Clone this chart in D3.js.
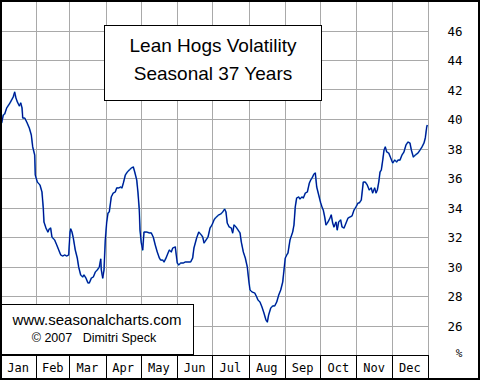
<!DOCTYPE html>
<html>
<head>
<meta charset="utf-8">
<script src="https://cdn.jsdelivr.net/npm/d3@7"></script>
<style>
  html, body { margin: 0; padding: 0; background: #fff; }
  svg { display: block; }
</style>
</head>
<body>
<svg id="chart" width="480" height="380"></svg>
<script>
// ---- data (day of year, volatility %) ----
const days = [
  1.4, 2.8, 4.0, 5.7, 8.5, 11.3, 12.5, 13.6, 14.8, 16.5, 17.7, 18.8, 19.4, 21.1, 22.8, 25.0, 26.7, 27.9, 29.6, 30.1,
  31.8, 34.1, 35.8, 36.9, 37.5, 39.2, 40.9, 42.0, 43.2, 44.3, 46.6, 48.4, 50.1, 51.8, 53.5, 55.2, 56.9, 58.6, 59.7, 60.3,
  61.4, 62.5, 64.2, 65.9, 67.1, 68.8, 70.5, 71.6, 73.3, 75.0, 76.2, 77.9, 79.6, 81.3, 83.0, 84.7, 85.9, 86.4, 87.6, 88.7,
  89.8, 91.0, 92.1, 93.2, 94.9, 96.6, 98.3, 99.5, 101.2, 102.9, 104.0, 105.2, 106.9, 108.6, 110.3, 112.0, 113.7, 114.9, 116.6, 117.7,
  118.8, 119.4, 120.5, 121.7, 122.8, 125.1, 127.3, 129.0, 130.7, 132.4, 134.1, 135.9, 137.0, 138.8, 139.9, 141.6, 143.3, 144.4, 146.1, 147.3,
  149.5, 150.1, 151.2, 152.4, 154.1, 156.3, 158.0, 160.3, 162.6, 164.3, 165.4, 167.7, 169.5, 171.7, 172.9, 174.0, 175.7, 177.4, 179.1, 180.8,
  182.5, 183.6, 186.5, 188.2, 189.9, 191.6, 192.7, 193.8, 195.5, 197.3, 198.4, 199.6, 201.3, 203.0, 204.7, 205.8, 207.5, 209.2, 210.9, 212.1,
  213.2, 214.9, 217.2, 218.9, 220.0, 221.7, 223.4, 225.1, 226.8, 228.0, 229.1, 230.9, 232.6, 234.3, 236.0, 237.7, 239.4, 241.1, 242.2, 243.3,
  244.5, 245.6, 247.3, 249.6, 250.7, 251.8, 253.0, 254.7, 255.8, 257.5, 258.7, 260.4, 262.1, 263.8, 265.0, 266.1, 267.8, 268.9, 270.1, 271.8,
  273.5, 274.6, 275.7, 276.9, 278.0, 279.7, 281.4, 282.5, 283.7, 284.8, 286.5, 287.6, 288.8, 290.5, 291.7, 293.4, 295.1, 296.8, 298.5, 300.2,
  301.9, 303.6, 305.3, 306.4, 308.1, 309.8, 311.5, 313.2, 314.9, 316.6, 317.8, 319.5, 320.7, 321.8, 323.0, 324.1, 325.2, 326.4, 327.5, 328.6,
  329.8, 331.5, 333.2, 334.9, 336.6, 338.3, 339.4, 341.1, 342.8, 344.5, 346.2, 347.9, 349.6, 350.8, 352.5, 354.2, 356.5, 358.2, 359.9, 361.6,
  362.7, 363.9, 364.4
];
const vol = [
  39.76, 40.31, 40.37, 40.78, 41.12, 41.53, 41.86, 41.46, 41.19, 40.92, 41.12, 40.78, 40.10, 40.10, 39.83, 39.42, 38.95, 38.14, 37.59, 36.24,
  35.76, 35.56, 35.08, 34.00, 33.05, 32.64, 32.37, 32.58, 32.64, 32.03, 31.83, 31.49, 31.15, 30.81, 30.75, 30.81, 30.75, 30.81, 32.37, 32.58,
  32.37, 31.97, 31.15, 30.61, 30.00, 29.46, 29.32, 29.46, 29.25, 28.92, 28.92, 29.25, 29.32, 29.66, 29.80, 30.00, 30.54, 29.80, 29.25, 29.80,
  31.83, 33.05, 33.66, 33.73, 34.75, 35.02, 35.08, 35.36, 35.36, 35.42, 35.36, 35.69, 36.24, 36.44, 36.58, 36.71, 36.78, 36.44, 35.90, 35.02,
  33.86, 32.51, 31.63, 31.15, 32.37, 32.37, 32.31, 32.31, 32.03, 31.49, 31.02, 30.61, 30.47, 30.47, 30.34, 30.61, 30.95, 31.15, 31.02, 31.29,
  31.36, 30.95, 30.27, 30.14, 30.27, 30.27, 30.34, 30.34, 30.34, 30.61, 31.29, 31.97, 32.37, 32.17, 32.03, 31.63, 31.83, 32.03, 32.64, 32.85,
  33.19, 33.32, 33.53, 33.59, 33.73, 33.93, 33.73, 32.98, 32.71, 32.64, 32.31, 32.85, 32.71, 32.51, 32.31, 31.69, 31.02, 30.61, 30.00, 29.12,
  28.44, 28.31, 28.24, 27.97, 27.76, 27.63, 27.29, 26.88, 26.41, 26.27, 26.75, 27.22, 27.36, 27.36, 27.63, 28.10, 28.44, 28.98, 29.80, 30.61,
  30.81, 30.95, 31.83, 32.37, 32.85, 34.07, 34.68, 34.75, 34.61, 34.75, 34.68, 35.02, 35.08, 35.69, 35.90, 36.03, 36.31, 36.37, 35.42, 34.88,
  34.34, 34.07, 33.86, 33.39, 32.85, 33.05, 33.32, 33.53, 32.98, 32.71, 33.05, 32.51, 33.05, 33.19, 32.71, 32.64, 32.98, 33.32, 33.39, 33.46,
  33.86, 34.07, 34.34, 34.34, 34.54, 35.76, 35.76, 35.56, 35.22, 35.36, 35.02, 35.36, 35.02, 35.22, 35.76, 36.44, 36.58, 37.25, 37.93, 38.14,
  37.80, 37.73, 37.39, 37.05, 37.25, 37.12, 37.25, 37.25, 37.59, 37.80, 38.27, 38.47, 38.41, 37.93, 37.46, 37.59, 37.73, 37.93, 38.14, 38.41,
  38.75, 39.49, 39.63
];
const months = ["Jan","Feb","Mar","Apr","May","Jun","Jul","Aug","Sep","Oct","Nov","Dec"];
const monthStarts = [0, 31, 59, 90, 120, 151, 181, 212, 243, 273, 304, 334, 365];
const yTicks = [26, 28, 30, 32, 34, 36, 38, 40, 42, 44, 46];
const titleLines = ["Lean Hogs Volatility", "Seasonal 37 Years"];

// ---- layout ----
const W = 480, H = 380;
const plotL = 0, plotR = 428, plotT = 0, plotB = 355, stripB = 379;

const svg = d3.select("#chart");
const x = d3.scaleLinear().domain([0, 365]).range([plotL, plotR]);
const y = d3.scaleLinear().domain([26, 46]).range([326, 31]);
const px = v => Math.round(v) + 0.5;

svg.append("rect").attr("width", W).attr("height", H).attr("fill", "#fff");

// grid
const grid = svg.append("g").attr("stroke", "#a9a9a9").attr("stroke-width", 1).attr("shape-rendering", "crispEdges");
grid.selectAll("line.v").data(monthStarts.slice(1)).join("line")
  .attr("x1", d => px(x(d))).attr("x2", d => px(x(d)))
  .attr("y1", plotT).attr("y2", plotB);
grid.selectAll("line.h").data(yTicks).join("line")
  .attr("x1", plotL).attr("x2", plotR)
  .attr("y1", d => Math.floor(y(d)) + 0.5).attr("y2", d => Math.floor(y(d)) + 0.5);

// line
const pts = days.map((d, i) => [d, vol[i]]);
const line = d3.line().x(d => x(d[0])).y(d => y(d[1]));
svg.append("path").datum(pts).attr("d", line)
  .attr("fill", "none").attr("stroke", "#3c9ad0").attr("stroke-width", 1.7).attr("stroke-linejoin", "round");
svg.append("path").datum(pts).attr("d", line)
  .attr("fill", "none").attr("stroke", "#00008c").attr("stroke-width", 1).attr("stroke-linejoin", "round");

// title box
svg.append("rect").attr("x", 104.5).attr("y", 25.5).attr("width", 217).attr("height", 75)
  .attr("fill", "#fff").attr("stroke", "#000").attr("stroke-width", 1);
svg.append("g").selectAll("text").data(titleLines).join("text")
  .attr("x", 213).attr("y", (d, i) => 52 + i * 28)
  .attr("text-anchor", "middle")
  .attr("font-family", "Liberation Sans, Arial, sans-serif").attr("font-size", 19)
  .attr("fill", "#000").text(d => d);

// watermark box
svg.append("rect").attr("x", 0.5).attr("y", 304.5).attr("width", 193).attr("height", 50)
  .attr("fill", "#fff").attr("stroke", "#000").attr("stroke-width", 1);
svg.append("text").attr("x", 97).attr("y", 325).attr("text-anchor", "middle")
  .attr("font-family", "Liberation Sans, Arial, sans-serif").attr("font-size", 15)
  .attr("fill", "#000").text("www.seasonalcharts.com");
svg.append("text").attr("x", 94).attr("y", 342).attr("text-anchor", "middle")
  .attr("font-family", "Liberation Sans, Arial, sans-serif").attr("font-size", 12.5)
  .style("white-space", "pre")
  .attr("fill", "#000").text("\u00A9 2007   Dimitri Speck");

// month strip
const strip = svg.append("g").attr("stroke", "#000").attr("stroke-width", 1).attr("shape-rendering", "crispEdges");
strip.append("line").attr("x1", 0).attr("x2", px(plotR)).attr("y1", plotB + 0.5).attr("y2", plotB + 0.5);
strip.selectAll("line.m").data(monthStarts.slice(1)).join("line")
  .attr("x1", d => px(x(d))).attr("x2", d => px(x(d)))
  .attr("y1", plotB).attr("y2", stripB);
svg.append("g").selectAll("text").data(months).join("text")
  .attr("x", (d, i) => x((monthStarts[i] + monthStarts[i + 1]) / 2))
  .attr("y", 372)
  .attr("text-anchor", "middle")
  .attr("font-family", "DejaVu Sans Mono, monospace").attr("font-size", 12)
  .attr("fill", "#000").text(d => d);

// right axis labels
const ax = svg.append("g").attr("transform", "translate(455,0)")
  .call(d3.axisRight(y).tickValues(yTicks).tickSize(0).tickPadding(0).tickFormat(d3.format("d")));
ax.select(".domain").remove();
ax.selectAll("text").attr("x", 0).attr("text-anchor", "middle")
  .attr("font-family", "DejaVu Sans Mono, monospace").attr("font-size", 12.5).attr("fill", "#000");
svg.append("text").attr("x", 459).attr("y", 357).attr("text-anchor", "middle")
  .attr("font-family", "DejaVu Sans Mono, monospace").attr("font-size", 11)
  .attr("fill", "#000").text("%");

// outer frame
svg.append("rect").attr("x", 1).attr("y", 1).attr("width", W - 2).attr("height", H - 2)
  .attr("fill", "none").attr("stroke", "#000").attr("stroke-width", 2);
</script>
</body>
</html>
